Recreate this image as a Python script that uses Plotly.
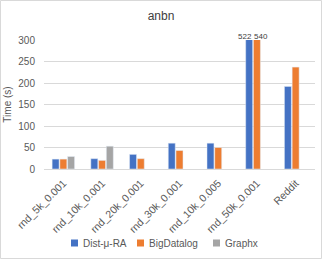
import plotly.graph_objects as go

categories = ["rnd_5k_0.001", "rnd_10k_0.001", "rnd_20k_0.001", "rnd_30k_0.001",
              "rnd_10k_0.005", "rnd_50k_0.001", "Reddit"]
dist_mu_ra = [23, 24, 34, 60, 60, 522, 192]
bigdatalog = [23, 20, 24, 43, 50, 540, 237]
graphx = [29, 53, None, None, None, None, None]
series_names = ["Dist-μ-RA", "BigDatalog", "Graphx"]
series_colors = ["#4472C4", "#ED7D31", "#A5A5A5"]
y_ticks = [0, 50, 100, 150, 200, 250, 300]
y_max = 300

font = "Liberation Sans"
fig = go.Figure()
for name, vals, col in zip(series_names, [dist_mu_ra, bigdatalog, graphx], series_colors):
    fig.add_bar(name=name, x=categories, y=vals, marker_color=col, showlegend=False)

# labels for clipped bars
for vals, shift in ((dist_mu_ra, -12), (bigdatalog, 4)):
    for c, v in zip(categories, vals):
        if v is not None and v > y_max:
            fig.add_annotation(x=c, y=y_max, text=str(v), showarrow=False,
                               yanchor="bottom", xshift=shift, yshift=-3,
                               font=dict(family=font, size=8, color="#404040"))

L, R, T, B = 44, 7, 40, 90
W, H = 322, 259
pw, ph = W - L - R, H - T - B

def px_x(p):
    return (p - L) / pw

def px_y(p):
    return (H - B - p) / ph

fig.add_shape(type="rect", xref="paper", yref="paper",
              x0=px_x(0.5), x1=px_x(W - 0.5), y0=px_y(H - 0.5), y1=px_y(0.5),
              line=dict(color="#D9D9D9", width=1), layer="below")

# manual legend (small square markers like the reference)
legend_x = [71, 137, 213]
legend_y = 243
for name, col, lx in zip(series_names, series_colors, legend_x):
    fig.add_shape(type="rect", xref="paper", yref="paper",
                  x0=px_x(lx), x1=px_x(lx + 7), y0=px_y(legend_y + 3.5), y1=px_y(legend_y - 3.5),
                  fillcolor=col, line=dict(width=0))
    fig.add_annotation(xref="paper", yref="paper", x=px_x(lx + 10), y=px_y(legend_y),
                       text=name, showarrow=False, xanchor="left", yanchor="middle",
                       font=dict(family=font, size=10, color="#595959"))

fig.update_layout(
    width=W, height=H,
    margin=dict(l=L, r=R, t=T, b=B, autoexpand=False),
    paper_bgcolor="white", plot_bgcolor="white",
    title=dict(text="anbn", x=0.5, xanchor="center", y=1 - 16 / H, yanchor="middle",
               font=dict(family=font, size=12, color="#404040")),
    barmode="group", bargap=0.4, bargroupgap=0.1,
    font=dict(family=font, size=10, color="#595959"),
    xaxis=dict(tickangle=-45, showline=True, linecolor="#D9D9D9", ticks="", automargin=False,
               ticklabelstandoff=3, tickfont=dict(size=10.5, color="#595959")),
    yaxis=dict(range=[0, y_max], tickvals=y_ticks, showgrid=True, gridcolor="#D9D9D9",
               showline=False, zeroline=False, ticks="", automargin=False,
               ticklabelstandoff=8, tickfont=dict(size=10, color="#595959"),
               title=dict(text="Time (s)", font=dict(size=10, color="#595959"), standoff=4)),
    showlegend=False,
)
fig.write_html("out.html", config={"displayModeBar": False},
               post_script="document.body.style.margin='0';document.body.style.overflow='hidden';")
